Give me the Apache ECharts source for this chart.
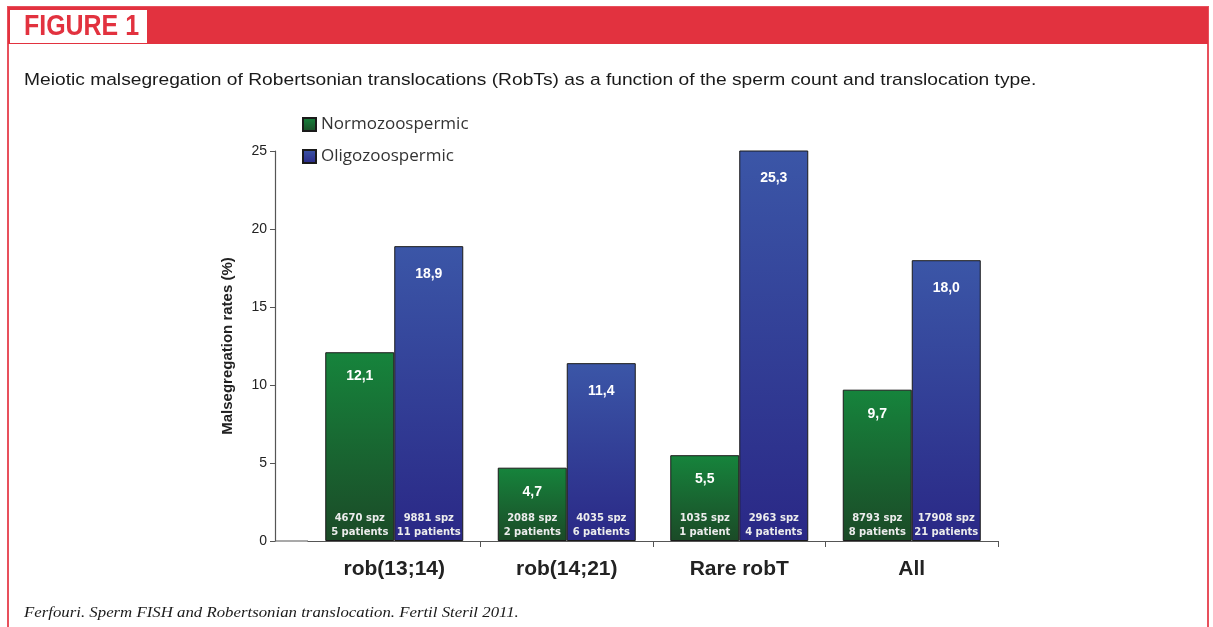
<!DOCTYPE html>
<html><head><meta charset="utf-8">
<script src="https://cdn.jsdelivr.net/npm/echarts@6/dist/echarts.min.js"></script>
<style>html,body{margin:0;padding:0;background:#fff}#c{width:1213px;height:627px}</style>
</head><body><div id="c"></div>
<script>
const categories = ['rob(13;14)', 'rob(14;21)', 'Rare robT', 'All'];
const normoValues = [12.1, 4.7, 5.5, 9.7];
const oligoValues = [18.9, 11.4, 25.3, 18.0];
const normoSpz = [4670, 2088, 1035, 8793];
const normoPatients = ['5 patients', '2 patients', '1 patient', '8 patients'];
const oligoSpz = [9881, 4035, 2963, 17908];
const oligoPatients = ['11 patients', '6 patients', '4 patients', '21 patients'];
const yTicks = [0, 5, 10, 15, 20, 25];

const chart = echarts.init(document.getElementById('c'), null, {renderer: 'canvas'});
const fmt = v => v.toFixed(1).replace('.', ',');
const greenGrad = new echarts.graphic.LinearGradient(0, 0, 0, 1, [{offset: 0, color: '#16843c'}, {offset: 1, color: '#1b4a27'}]);
const blueGrad = new echarts.graphic.LinearGradient(0, 0, 0, 1, [{offset: 0, color: '#3b56a7'}, {offset: 1, color: '#2a2886'}]);
const bottomLabel = (spz, pats) => ({
  show: true, position: 'insideBottom', distance: 2, color: '#ececec',
  fontFamily: 'DejaVu Sans', fontWeight: 'bold', fontSize: 10, lineHeight: 14,
  formatter: p => spz[p.dataIndex] + ' spz\n' + pats[p.dataIndex]
});
const topLabel = d => ({show: true, position: 'insideTop', distance: d, color: '#fff',
  fontFamily: 'Liberation Sans', fontWeight: 'bold', fontSize: 14, formatter: p => fmt(p.value)});
const common = {type: 'bar', barGap: '0%', barCategoryGap: '20%'};

chart.setOption({
  animation: false,
  backgroundColor: '#fff',
  grid: {left: 308, right: 215, top: 151, bottom: 86},
  legend: {
    data: ['Normozoospermic', 'Oligozoospermic'],
    orient: 'vertical', left: 297, top: 111, itemWidth: 13, itemHeight: 13, itemGap: 15,
    textStyle: {fontFamily: 'Open Sans', fontSize: 17, color: '#333'},
    icon: 'rect'
  },
  xAxis: [{
    type: 'category', data: categories,
    axisLine: {lineStyle: {color: '#555', width: 1.2}},
    axisTick: {show: true, length: 6, lineStyle: {color: '#555'}, interval: (i) => i > 0},
    axisLabel: {fontFamily: 'Liberation Sans', fontWeight: 'bold', fontSize: 21, color: '#222', margin: 18}
  }, {
    type: 'category', data: categories, show: false
  }],
  yAxis: {
    type: 'value', min: 0, max: 25, interval: 5, offset: 33,
    name: 'Malsegregation rates (%)', nameLocation: 'middle', nameGap: 40, nameRotate: 90,
    nameTextStyle: {fontFamily: 'Liberation Sans', fontWeight: 'bold', fontSize: 15, color: '#222'},
    axisLine: {show: true, lineStyle: {color: '#555', width: 1.2}},
    axisTick: {show: true, length: 5, lineStyle: {color: '#555'}},
    splitLine: {show: false},
    axisLabel: {fontFamily: 'Liberation Sans', fontSize: 14, color: '#222', margin: 8,
      formatter: v => yTicks.includes(v) ? String(v) : ''}
  },
  series: [
    Object.assign({}, common, {name: 'Normozoospermic', data: normoValues, xAxisIndex: 0,
      itemStyle: {color: greenGrad, borderColor: '#1a1a1a', borderWidth: 1}, label: topLabel(17)}),
    Object.assign({}, common, {name: 'Oligozoospermic', data: oligoValues, xAxisIndex: 0,
      itemStyle: {color: blueGrad, borderColor: '#1a1a1a', borderWidth: 1}, label: topLabel(21)}),
    Object.assign({}, common, {name: 'Normozoospermic', data: normoValues, xAxisIndex: 1, z: 5,
      itemStyle: {color: 'rgba(0,0,0,0)'}, label: bottomLabel(normoSpz, normoPatients), silent: true}),
    Object.assign({}, common, {name: 'Oligozoospermic', data: oligoValues, xAxisIndex: 1, z: 5,
      itemStyle: {color: 'rgba(0,0,0,0)'}, label: bottomLabel(oligoSpz, oligoPatients), silent: true})
  ],
  color: ['#1a7a3a', '#3446a0'],
  graphic: [
    {type: 'rect', shape: {x: 8, y: 7, width: 1200, height: 640}, style: {fill: 'none', stroke: '#e8505c', lineWidth: 2}, z: 1},
    {type: 'rect', shape: {x: 8, y: 7, width: 1200, height: 37}, style: {fill: '#e2323f'}, z: 2},
    {type: 'rect', shape: {x: 10, y: 10, width: 137, height: 33}, style: {fill: '#fff'}, z: 3},
    {type: 'text', x: 24, y: 12, scaleX: 0.86, style: {text: 'FIGURE 1', fill: '#e2323f', font: 'bold 29px "Liberation Sans"'}, z: 4},
    {type: 'text', x: 24, y: 72, scaleX: 1.13, style: {text: 'Meiotic malsegregation of Robertsonian translocations (RobTs) as a function of the sperm count and translocation type.', fill: '#1a1a1a', font: '17px "Liberation Sans"'}},
    {type: 'text', x: 24, y: 606, scaleX: 1.12, style: {text: 'Ferfouri. Sperm FISH and Robertsonian translocation. Fertil Steril 2011.', fill: '#1a1a1a', font: 'italic 15px "Liberation Serif"'}},
    {type: 'line', shape: {x1: 275, y1: 541, x2: 308, y2: 541}, style: {stroke: '#555', lineWidth: 1.2}}
  ]
});
</script></body></html>
